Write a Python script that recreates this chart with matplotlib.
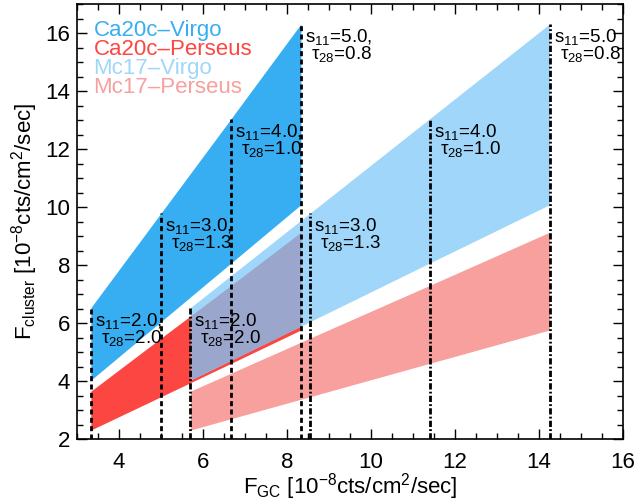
import numpy as np
import matplotlib
matplotlib.use("Agg")
import matplotlib.pyplot as plt
from matplotlib.ticker import MultipleLocator

plt.rcParams["font.family"] = ["Liberation Sans", "DejaVu Sans"]
plt.rcParams["mathtext.fontset"] = "custom"
plt.rcParams["mathtext.rm"] = "Liberation Sans"
plt.rcParams["mathtext.it"] = "Liberation Sans:italic"
plt.rcParams["mathtext.bf"] = "Liberation Sans:bold"
plt.rcParams["lines.scale_dashes"] = False

# model grid: one point per (s11, tau28) pair
s11 = [2.0, 3.0, 4.0, 5.0]
tau28 = [2.0, 1.3, 1.0, 0.8]
fgc_ca20c = [3.33, 5.0, 6.67, 8.33]
fgc_mc17 = [5.7, 8.55, 11.4, 14.25]
virgo_lo = [4.03, 6.05, 8.07, 10.08]
virgo_hi = [6.53, 9.79, 13.05, 16.31]
perseus_lo = [2.31, 3.46, 4.61, 5.76]
perseus_hi = [3.65, 5.48, 7.30, 9.13]

labels = ["Ca20c\u2013Virgo", "Ca20c\u2013Perseus", "Mc17\u2013Virgo", "Mc17\u2013Perseus"]
colors = ["#38aef2", "#fc4642", "#9fd6f9", "#f7a09e"]
overlap_color = "#9aa6cc"

fig = plt.figure(figsize=(6.37, 5.04), dpi=100)
ax = fig.add_axes([77 / 637, 65 / 504, 546 / 637, 435 / 504])

ax.fill_between(fgc_ca20c, virgo_lo, virgo_hi, color=colors[0], lw=0)
ax.fill_between(fgc_ca20c, perseus_lo, perseus_hi, color=colors[1], lw=0)
ax.fill_between(fgc_mc17, virgo_lo, virgo_hi, color=colors[2], lw=0)
ax.fill_between(fgc_mc17, perseus_lo, perseus_hi, color=colors[3], lw=0)

# where Ca20c-Perseus and Mc17-Virgo overlap
xo = np.linspace(fgc_mc17[0], fgc_ca20c[-1], 60)
lo = np.maximum(np.interp(xo, fgc_ca20c, perseus_lo), np.interp(xo, fgc_mc17, virgo_lo))
hi = np.minimum(np.interp(xo, fgc_ca20c, perseus_hi), np.interp(xo, fgc_mc17, virgo_hi))
ax.fill_between(xo, lo, hi, where=hi > lo, color=overlap_color, lw=0)

ax.set_xlim(3, 16)
ax.set_ylim(2, 17)
ybot = ax.get_ylim()[0]

dash = (0, (3.6, 2.4))
dashdot = (0, (4.5, 1.6, 1.3, 1.6))
for xs, ls, comma in [(fgc_ca20c, dash, ","), (fgc_mc17, dashdot, "")]:
    for x, top, s, t in zip(xs, virgo_hi, s11, tau28):
        ax.plot([x, x], [ybot, top], color="black", lw=2.0, linestyle=ls)
        ax.annotate(f"s$_{{11}}$={s:.1f}{comma}", (x, top), xytext=(4, -3),
                    textcoords="offset pixels", ha="left", va="top", fontsize=13.5)
        ax.annotate(f"\u03c4$_{{28}}$={t:.1f}", (x, top), xytext=(10, -20),
                    textcoords="offset pixels", ha="left", va="top", fontsize=13.5)

for i, (lab, c) in enumerate(zip(labels, colors)):
    ax.text(0.03, 0.940 - i * 0.0437, lab, color=c, fontsize=16,
            transform=ax.transAxes, ha="left", va="center")

ax.xaxis.set_major_locator(MultipleLocator(2))
ax.xaxis.set_minor_locator(MultipleLocator(0.5))
ax.yaxis.set_major_locator(MultipleLocator(2))
ax.yaxis.set_minor_locator(MultipleLocator(0.5))
ax.tick_params(which="both", direction="in", top=True, right=True, width=1.0)
ax.tick_params(which="major", length=7, labelsize=16)
ax.tick_params(which="minor", length=4)
ax.tick_params(axis="x", pad=9)
ax.tick_params(axis="y", pad=5)
for sp in ax.spines.values():
    sp.set_linewidth(1.2)

ax.set_xlabel("F$_{\\rm GC}$ [10$^{-8}$cts/cm$^{2}$/sec]", fontsize=16, labelpad=-1)
ax.set_ylabel("F$_{\\rm cluster}$ [10$^{-8}$cts/cm$^{2}$/sec]", fontsize=16, labelpad=4)

fig.savefig("out.png", dpi=100)
